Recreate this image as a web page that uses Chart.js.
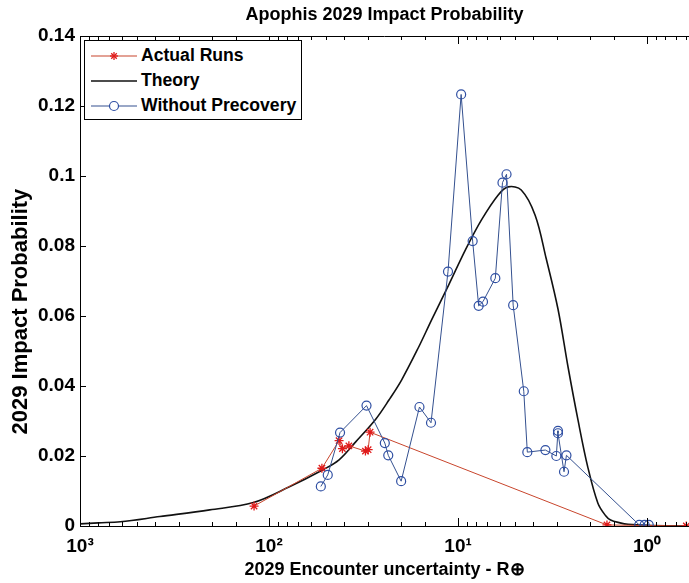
<!DOCTYPE html>
<html lang="en">
<head>
  <meta charset="UTF-8">
  <title>Apophis 2029 Impact Probability</title>
  <script src="https://cdn.jsdelivr.net/npm/chart.js"></script>
  <style>
    body {
      margin: 0;
      background: #fff;
      font-family: "Liberation Sans", Arial, sans-serif;
    }
    #wrap {
      position: relative;
      width: 689px;
      height: 583px;
    }
    #legend {
      position: absolute;
      left: 84px;
      top: 40px;
      width: 218px;
      height: 80px;
      border: 1px solid #000;
      background: #fff;
      box-sizing: border-box;
      padding-top: 2px;
    }
    #legend .row {
      height: 25px;
      display: flex;
      align-items: center;
      white-space: nowrap;
      font-weight: bold;
      font-size: 17.6px;
      color: #000;
    }
    #legend svg {
      margin-left: 6px;
      margin-right: 4px;
    }
  </style>
</head>
<body>

<div id="wrap">
  <canvas id="chart"></canvas>
  <div id="legend">
    <div class="row">
      <svg width="46" height="14">
        <line x1="0" y1="7" x2="46" y2="7" stroke="#c8452c" stroke-width="1.2"/>
        <g stroke="#e01b1b" stroke-width="1.3">
          <line x1="19" y1="7" x2="27" y2="7"/><line x1="23" y1="3" x2="23" y2="11"/>
          <line x1="20.2" y1="4.2" x2="25.8" y2="9.8"/><line x1="20.2" y1="9.8" x2="25.8" y2="4.2"/>
        </g>
      </svg>
      <span>Actual Runs</span>
    </div>
    <div class="row">
      <svg width="46" height="14">
        <line x1="0" y1="7" x2="46" y2="7" stroke="#111" stroke-width="1.5"/>
      </svg>
      <span>Theory</span>
    </div>
    <div class="row">
      <svg width="46" height="14">
        <line x1="0" y1="7" x2="46" y2="7" stroke="#34508f" stroke-width="1.2"/>
        <circle cx="23" cy="7" r="4.5" fill="#fff" stroke="#2f4fa3" stroke-width="1.2"/>
      </svg>
      <span>Without Precovery</span>
    </div>
  </div>
</div>

<script>
// Encounter uncertainty (Earth radii) and 2029 impact probability
const actualX = [120, 52.5, 42.6, 40.9, 37.8, 30.9, 29.9, 29.2, 1.63, 0.62];
const actualY = [0.0057, 0.0165, 0.0244, 0.0221, 0.0229, 0.0214, 0.0218, 0.0268, 0.0003, 0.0];

const theoryX = [1000, 800, 612, 378, 206, 121, 78, 52.1, 42.6, 34.7, 27.2, 23.2, 19.9, 16.2, 13.8,
  11.2, 9.14, 7.53, 6.13, 5.43, 4.63, 3.91, 3.42, 2.96, 2.62, 2.32, 2.06, 1.82, 1.66, 1.56, 1.39, 1.26, 1.0, 0.62];
const theoryY = [0.0006, 0.0009, 0.0012, 0.0027, 0.0046, 0.0067, 0.0112, 0.016, 0.0189, 0.0241, 0.0306, 0.036, 0.0417, 0.051, 0.0589,
  0.0689, 0.0789, 0.0874, 0.0946, 0.0969, 0.096, 0.0888, 0.0765, 0.062, 0.0455, 0.0303, 0.0169, 0.0065, 0.003, 0.0017, 0.0009, 0.0005, 0.0002, 0.0];

const noPrecovX = [53.2, 48.9, 42.1, 30.5, 24.4, 23.4, 20.0, 16.0, 13.9, 11.3, 9.63, 8.37, 7.78, 7.38, 6.35,
  5.82, 5.54, 5.11, 4.49, 4.30, 3.45, 3.02, 2.96, 2.96, 2.75, 2.67, 1.10, 1.03, 0.98];
const noPrecovY = [0.0113, 0.0146, 0.0267, 0.0344, 0.0237, 0.0202, 0.0128, 0.0340, 0.0295, 0.0727, 0.1233, 0.0814, 0.0629, 0.0641, 0.0708,
  0.0981, 0.1005, 0.0631, 0.0385, 0.0211, 0.0217, 0.0200, 0.0272, 0.0265, 0.0155, 0.0202, 0.0003, 0.0003, 0.0003];

const yTicks = [0, 0.02, 0.04, 0.06, 0.08, 0.1, 0.12, 0.14];

const toPoints = (xs, ys) => xs.map((x, i) => ({x: x, y: ys[i]}));
const sup = {'-1': '⁻¹', 0: '⁰', 1: '¹', 2: '²', 3: '³'};
const isDecade = v => Math.abs(Math.log10(v) - Math.round(Math.log10(v))) < 1e-9;

// inward tick marks on the box, like the original figure
const boxTicks = {
  id: 'boxTicks',
  afterDatasetsDraw(chart) {
    const {ctx, chartArea: a, scales: {x, y}} = chart;
    ctx.save();
    ctx.strokeStyle = '#000';
    ctx.lineWidth = 1;
    ctx.beginPath();
    ctx.moveTo(a.left, a.top + 0.5);
    ctx.lineTo(a.right, a.top + 0.5);
    x.ticks.forEach(t => {
      if (t.value < x.min || t.value > x.max) return;
      const px = Math.round(x.getPixelForValue(t.value)) + 0.5;
      const len = isDecade(t.value) ? 8 : 4;
      ctx.moveTo(px, a.bottom);
      ctx.lineTo(px, a.bottom - len);
      ctx.moveTo(px, a.top);
      ctx.lineTo(px, a.top + len);
    });
    y.ticks.forEach(t => {
      const py = Math.round(y.getPixelForValue(t.value)) + 0.5;
      ctx.moveTo(a.left, py);
      ctx.lineTo(a.left + 6, py);
    });
    ctx.stroke();
    ctx.restore();
  }
};

Chart.defaults.font.family = '"Liberation Sans", Arial, sans-serif';
Chart.defaults.color = '#000';

new Chart(document.getElementById('chart'), {
  type: 'scatter',
  data: {
    datasets: [
      {
        label: 'Without Precovery',
        data: toPoints(noPrecovX, noPrecovY),
        showLine: true,
        borderColor: '#34508f',
        borderWidth: 1,
        pointStyle: 'circle',
        pointRadius: 4.5,
        pointBorderColor: '#2f4fa3',
        pointBackgroundColor: 'rgba(255,255,255,0)',
        pointBorderWidth: 1.2
      },
      {
        label: 'Actual Runs',
        data: toPoints(actualX, actualY),
        showLine: true,
        borderColor: '#c8452c',
        borderWidth: 1,
        pointStyle: 'star',
        pointRadius: 4.5,
        pointBorderColor: '#e01b1b',
        pointBorderWidth: 1.3
      },
      {
        label: 'Theory',
        data: toPoints(theoryX, theoryY),
        showLine: true,
        borderColor: '#111',
        borderWidth: 1.6,
        pointRadius: 0,
        tension: 0.35
      }
    ]
  },
  options: {
    responsive: true,
    maintainAspectRatio: false,
    animation: false,
    layout: { padding: 0, autoPadding: false },
    plugins: {
      legend: { display: false },
      tooltip: { enabled: false },
      title: {
        display: true,
        fullSize: false,
        text: 'Apophis 2029 Impact Probability',
        font: { size: 18, weight: 'bold' },
        padding: { top: 4, bottom: 10.4 }
      }
    },
    scales: {
      x: {
        type: 'logarithmic',
        reverse: true,
        min: 0.62,
        max: 1000,
        border: { display: true, color: '#000', width: 1 },
        grid: { display: true, drawOnChartArea: false, drawTicks: false },
        ticks: {
          autoSkip: false,
          maxRotation: 0,
          padding: 9,
          font: { size: 19, weight: 'bold' },
          callback: v => isDecade(v) ? '10' + sup[Math.round(Math.log10(v))] : ''
        },
        title: {
          display: true,
          text: '2029 Encounter uncertainty - R⊕',
          font: { size: 18, weight: 'bold' },
          padding: { top: 0, bottom: 2 }
        },
        afterFit: s => { s.height = 57; s.paddingRight = 0; s.paddingLeft = 0; }
      },
      y: {
        min: 0,
        max: 0.14,
        afterBuildTicks: s => { s.ticks = yTicks.map(v => ({value: v})); },
        border: { display: true, color: '#000', width: 1 },
        grid: { display: true, drawOnChartArea: false, drawTicks: false },
        ticks: {
          padding: 5,
          font: { size: 19, weight: 'bold' },
          callback: v => v === 0 ? '0' : String(+v.toFixed(2))
        },
        title: {
          display: true,
          // trailing spaces push the label a little below the axis centre, as in the original
          text: '2029 Impact Probability' + '\u00a0'.repeat(10),
          font: { size: 22, weight: 'bold' },
          padding: { top: 8, bottom: 0 }
        },
        afterFit: s => { s.width = 80; }
      }
    }
  },
  plugins: [boxTicks]
});
</script>

</body>
</html>
